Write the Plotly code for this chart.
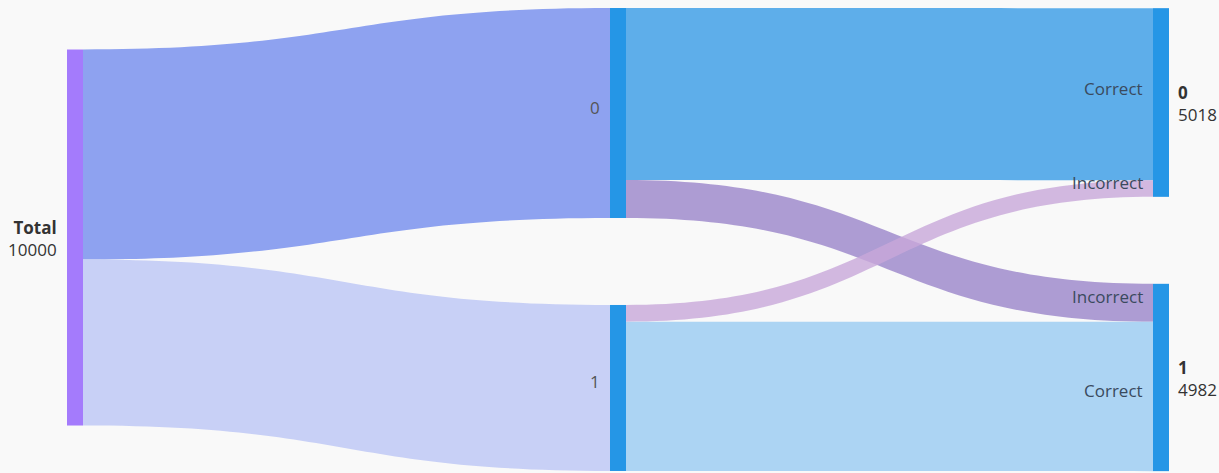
import plotly.graph_objects as go

# ---- data ----
node_names = ["Total", "0", "1", "0", "1"]
node_values_shown = ["10000", "", "", "5018", "4982"]
link_source = [0, 0, 1, 1, 2, 2]
link_target = [1, 2, 3, 4, 3, 4]
link_values = [5585, 4415, 4574, 1011, 444, 3971]
link_labels = ["", "", "Correct", "Incorrect", "Incorrect", "Correct"]

# ---- layout / style ----
W, H = 1219, 473
M_T, M_B = 8, 2
PH = H - M_T - M_B
PAD = 87
THICK = 16
node_x = [75 / W, 618 / W, 618 / W, 1161 / W, 1161 / W]
node_y = [0.4957, 0.2268, 0.8207, 0.2041, 0.7980]
node_colors = ["#a47bfc", "#2596e6", "#2596e6", "#2596e6", "#2596e6"]
link_colors = [
    "rgba(142,162,240,1)",
    "rgba(200,208,246,1)",
    "rgba(94,174,234,1)",
    "rgba(160,140,205,0.85)",
    "rgba(200,168,218,0.8)",
    "rgba(172,212,243,1)",
]

fig = go.Figure(go.Sankey(
    arrangement="fixed",
    domain=dict(x=[0, 1], y=[0, 1]),
    node=dict(
        label=["" for _ in node_names],
        x=node_x, y=node_y,
        pad=PAD, thickness=THICK,
        color=node_colors,
        line=dict(width=0),
    ),
    link=dict(
        source=link_source, target=link_target, value=link_values,
        color=link_colors, label=link_labels,
    ),
    textfont=dict(size=1, color="rgba(0,0,0,0)"),
))

# derived geometry for labels
total = sum(link_values[:2])
ky = (PH - PAD) / total  # px per unit


def py_to_paper(py):
    return 1 - py / PH


annotations = []
FONT = "Open Sans, Noto Sans, sans-serif"
FS = 17
for i, name in enumerate(node_names):
    cx = node_x[i] * W
    cy = node_y[i] * PH
    right_side = i >= 3
    if node_values_shown[i]:
        txt = f"<b>{name}</b><br>{node_values_shown[i]}"
        yshift = -1
        color = "#333333"
    else:
        txt = name
        yshift = 6
        color = "#555555"
    annotations.append(dict(
        x=(cx + THICK / 2 + 7) / W if right_side else (cx - THICK / 2 - 8) / W,
        y=py_to_paper(cy), xref="paper", yref="paper",
        xanchor="left" if right_side else "right", yanchor="middle",
        align="left" if right_side else "right",
        text=txt, showarrow=False, yshift=yshift,
        font=dict(family=FONT, size=FS, color=color),
    ))

# link end labels at target nodes
node_in = {}
for k in range(len(link_source)):
    node_in.setdefault(link_target[k], []).append(k)
for t, ks in node_in.items():
    ks_sorted = sorted(ks, key=lambda k: node_y[link_source[k]])
    node_h = sum(link_values[k] for k in ks) * ky
    top = node_y[t] * PH - node_h / 2
    for k in ks_sorted:
        h = link_values[k] * ky
        c = top + h / 2
        top += h
        if link_labels[k]:
            annotations.append(dict(
                x=(node_x[t] * W - THICK / 2 - 8) / W, y=py_to_paper(c),
                xref="paper", yref="paper", xanchor="right", yanchor="middle",
                text=link_labels[k], showarrow=False, yshift=6,
                font=dict(family=FONT, size=FS, color="#3a4a5e"),
            ))

fig.update_layout(
    width=W, height=H,
    margin=dict(l=0, r=0, t=M_T, b=M_B),
    paper_bgcolor="#f9f9f9", plot_bgcolor="#f9f9f9",
    annotations=annotations,
)
fig.write_html("out.html")
